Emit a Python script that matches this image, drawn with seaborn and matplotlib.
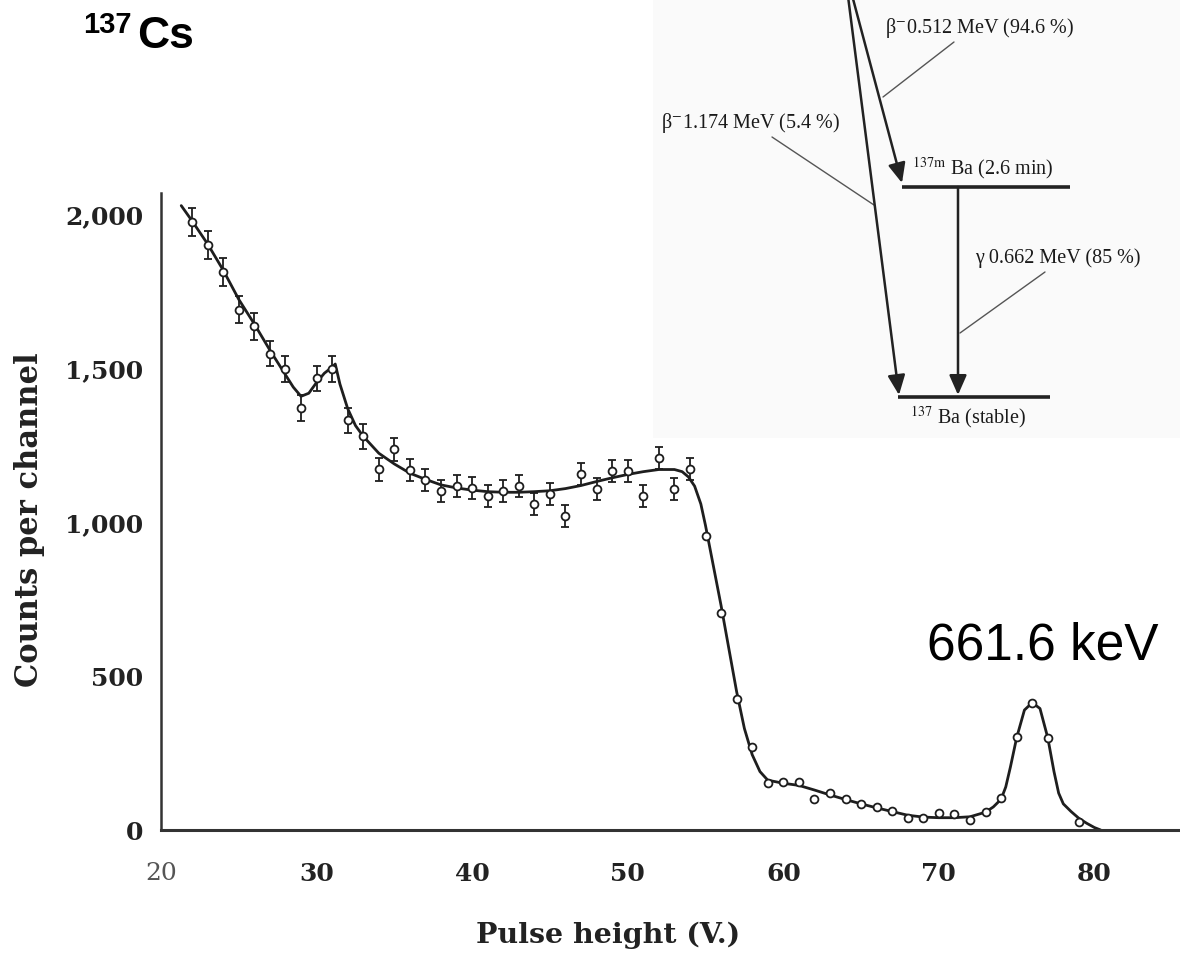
import matplotlib
matplotlib.use("Agg")
import matplotlib.pyplot as plt
import seaborn as sns
import pandas as pd

# ---------------- data ----------------
point_x = [22, 23, 24, 25, 26, 27, 28, 29, 30, 31, 32, 33, 34, 35, 36, 37, 38, 39,
           40, 41, 42, 43, 44, 45, 46, 47, 48, 49, 50, 51, 52, 53, 54, 55,
           56, 57, 58, 59, 60, 61, 62, 63, 64, 65, 66, 67, 68, 69, 70, 71, 72,
           73, 74, 75, 76, 77, 79]
point_y = [1977, 1903, 1815, 1692, 1637, 1549, 1498, 1371, 1468, 1498, 1332, 1280,
           1173, 1238, 1170, 1138, 1102, 1118, 1112, 1086, 1102, 1118, 1060, 1092,
           1021, 1157, 1109, 1167, 1167, 1086, 1209, 1109, 1173, 956,
           705, 425, 269, 152, 156, 156, 100, 120, 100, 84, 75, 62, 39, 39, 55, 52,
           34, 60, 103, 301, 412, 300, 25]
point_err = [45, 45, 45, 45, 45, 42, 42, 42, 42, 42, 40, 40, 38, 38, 36, 36, 35, 35,
             35, 35, 35, 35, 35, 35, 35, 35, 35, 35, 35, 35, 35, 35, 35, 0,
             0, 0, 0, 0, 0, 0, 0, 0, 0, 0, 0, 0, 0, 0, 0, 0, 0,
             0, 0, 0, 0, 0, 0]

curve_x = [21.3, 22, 23, 24, 25, 26, 27, 28, 28.5, 29, 29.5, 30, 30.5, 31, 31.2,
           31.5, 32, 32.5, 33, 34, 35, 36, 37, 38, 39, 40, 41, 42, 43, 44, 45, 46,
           47, 48, 49, 50, 51, 52, 53, 53.5, 53.9, 54.3, 54.7, 55, 55.5, 56, 56.5,
           57, 57.5, 58, 58.5, 59, 60, 61, 62, 63, 64, 65, 66, 67, 68, 69, 70, 71,
           72, 73, 73.5, 74, 74.3, 74.6, 75, 75.5, 76, 76.5, 77, 77.4, 77.7, 78,
           78.5, 79, 79.5, 80, 80.4]
curve_y = [2030, 1980, 1905, 1820, 1725, 1645, 1560, 1480, 1440, 1410, 1420, 1455,
           1485, 1505, 1515, 1450, 1370, 1315, 1280, 1225, 1190, 1160, 1140, 1122,
           1112, 1105, 1100, 1098, 1098, 1100, 1103, 1110, 1120, 1133, 1145, 1156,
           1165, 1172, 1172, 1165, 1148, 1118, 1060, 990, 860, 730, 590, 450, 330,
           245, 190, 162, 152, 145, 130, 114, 99, 85, 72, 60, 48, 42, 40, 40, 43,
           58, 75, 100, 140, 205, 300, 390, 414, 395, 300, 190, 120, 85, 60, 38,
           22, 8, 0]

x_ticks = [20, 30, 40, 50, 60, 70, 80]
x_tick_labels = ["20", "30", "40", "50", "60", "70", "80"]
y_ticks = [0, 500, 1000, 1500, 2000]
y_tick_labels = ["0", "500", "1,000", "1,500", "2,000"]

x_label = "Pulse height (V.)"
y_label = "Counts per channel"
peak_label = "661.6 keV"
iso_mass = "137"
iso_name = "Cs"
scheme_labels = [r"β$^{-}$0.512 MeV (94.6 %)", r"β$^{-}$1.174 MeV (5.4 %)",
                 r"$^{\mathrm{137m}}$ Ba (2.6 min)", "γ 0.662 MeV (85 %)",
                 r"$^{\mathrm{137}}$ Ba (stable)"]

# ---------------- figure ----------------
sns.set_theme(style="white")
plt.rcParams['font.family'] = ['DejaVu Serif', 'DejaVu Sans']
plt.rcParams['mathtext.fontset'] = 'stix'

W, H = 1180, 956
fig = plt.figure(figsize=(W / 100, H / 100), dpi=100)
fig.patch.set_facecolor("white")


def fx(px):
    return px / W


def fy(py):
    return 1 - py / H


ax_left, ax_right, ax_bottom, ax_top = 161, 1180, 830, 193
ax = fig.add_axes([fx(ax_left), fy(ax_bottom), (ax_right - ax_left) / W,
                   (ax_bottom - ax_top) / H])
ax.set_facecolor("none")

ink = "#1e1e1e"
curve_df = pd.DataFrame({"x": curve_x, "y": curve_y})
pts_df = pd.DataFrame({"x": point_x, "y": point_y, "err": point_err})

sns.lineplot(data=curve_df, x="x", y="y", ax=ax, color=ink, lw=2.0,
             estimator=None, sort=False, zorder=2)
eb = pts_df[pts_df["err"] > 0]
ax.errorbar(eb["x"], eb["y"], yerr=eb["err"], fmt="none", ecolor=ink,
            elinewidth=1.3, capsize=3, capthick=1.3, zorder=3)
sns.scatterplot(data=pts_df, x="x", y="y", ax=ax, marker="o", s=32,
                facecolor="white", edgecolor=ink, linewidth=1.3, zorder=4)

ax.set_xlim(20, 85.5)
ax.set_ylim(0, 2071)
ax.set_xticks(x_ticks)
ax.set_xticklabels(x_tick_labels)
ax.set_yticks(y_ticks)
ax.set_yticklabels(y_tick_labels)
for s in ["top", "right"]:
    ax.spines[s].set_visible(False)
ax.spines["left"].set_color("#333333")
ax.spines["left"].set_linewidth(1.8)
ax.spines["bottom"].set_color("#333333")
ax.spines["bottom"].set_linewidth(2.2)
ax.tick_params(axis="x", direction="in", length=6, width=1.2, pad=23,
               labelsize=18, colors="#333333", labelcolor="#222222")
ax.tick_params(axis="y", direction="in", length=6, width=1.2, pad=13,
               labelsize=18, colors="#333333", labelcolor="#222222")
for lab in ax.get_xticklabels() + ax.get_yticklabels():
    lab.set_fontweight("bold")
ax.get_xticklabels()[0].set_fontweight("normal")
ax.get_xticklabels()[0].set_color("#555555")

ax.set_xlabel(x_label, fontsize=20.5, fontweight="bold", color="#222222")
ax.set_ylabel(y_label, fontsize=22, fontweight="bold", color="#222222")
ax.xaxis.set_label_coords((608 - ax_left) / (ax_right - ax_left),
                          -(935 - ax_bottom) / (ax_bottom - ax_top))
ax.xaxis.label.set_va("center")
ax.yaxis.set_label_coords((30 - ax_left) / (ax_right - ax_left),
                          (ax_bottom - 520) / (ax_bottom - ax_top))
ax.yaxis.label.set_va("center")
ax.yaxis.label.set_ha("center")

# ---------------- annotations ----------------
fig.text(fx(83), fy(33), iso_mass, fontsize=21, fontweight="bold",
         family="Liberation Sans", ha="left", va="baseline", color="black")
fig.text(fx(137), fy(48), iso_name, fontsize=32, fontweight="bold",
         family="Liberation Sans", ha="left", va="baseline", color="black")
fig.text(fx(927), fy(660), peak_label, fontsize=37, family="Liberation Sans",
         ha="left", va="baseline", color="black")

# decay-scheme inset (pixel coordinates of the reference)
ins = fig.add_axes([fx(653), fy(438), (W - 653) / W, 438 / H])
ins.set_xlim(653, W)
ins.set_ylim(438, 0)
ins.set_facecolor("#fafafa")
ins.set_xticks([])
ins.set_yticks([])
for s in ins.spines.values():
    s.set_visible(False)

sk = "#222222"
aprops = dict(arrowstyle="-|>,head_length=0.5,head_width=0.22", lw=1.8,
              color=sk, shrinkA=0, shrinkB=0, mutation_scale=24)
ins.annotate("", xy=(899, 395), xytext=(844, -35), arrowprops=aprops,
             annotation_clip=False)
ins.annotate("", xy=(902, 183), xytext=(844, -35), arrowprops=aprops,
             annotation_clip=False)
ins.annotate("", xy=(958, 395), xytext=(958, 187), arrowprops=aprops)
ins.plot([902, 1070], [187, 187], color=sk, lw=2.6, solid_capstyle="butt")
ins.plot([898, 1050], [397, 397], color=sk, lw=2.6, solid_capstyle="butt")
lead = dict(color="#555555", lw=1.0)
ins.plot([883, 954], [97, 42], **lead)
ins.plot([772, 874], [137, 205], **lead)
ins.plot([960, 1045], [333, 272], **lead)

tkw = dict(fontsize=14.5, family="Liberation Serif", color="#1a1a1a",
           ha="left", va="center")
ins.text(885, 28, scheme_labels[0], **tkw)
ins.text(661, 123, scheme_labels[1], **tkw)
ins.text(912, 168, scheme_labels[2], **tkw)
ins.text(975, 258, scheme_labels[3], **tkw)
ins.text(910, 417, scheme_labels[4], **tkw)

fig.savefig("out.png", dpi=100, facecolor="white")
